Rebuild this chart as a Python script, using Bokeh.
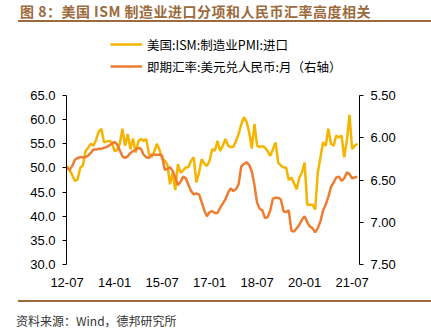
from bokeh.plotting import figure
from bokeh.models import (Range1d, LinearAxis, Legend, LegendItem, Div,
                          FixedTicker, NumeralTickFormatter)
from bokeh.layouts import column
from bokeh.embed import file_html
from bokeh.resources import INLINE

# ---- data (monthly, 2012-07 .. 2021-09) ----
ism_imports = [
    50.4, 49.5, 48.5, 47.3, 47.6, 50.0,
    50.5, 53.5, 54.2, 55.0, 54.6, 55.8, 57.5, 58.1, 55.3, 55.5, 55.6, 55.3,
    53.5, 53.7, 55.0, 58.1, 54.6, 57.0, 53.9, 56.1, 53.2, 55.5, 56.0, 55.6,
    56.0, 53.0, 52.2, 53.3, 55.0, 53.8, 52.0, 51.5, 50.7, 46.6, 49.0, 45.4,
    50.8, 49.0, 49.5, 50.1, 50.2, 51.5, 52.2, 47.0, 49.0, 51.8, 50.9, 50.4,
    51.5, 53.9, 53.6, 55.6, 53.5, 54.6, 56.0, 54.6, 54.3, 54.4, 55.5, 57.0,
    59.0, 60.5, 59.6, 57.4, 54.0, 59.1, 54.6, 54.3, 54.5, 54.2, 53.5, 52.5,
    53.9, 55.3, 51.1, 50.5, 50.1, 50.1, 47.5, 48.0, 46.8, 45.6, 48.0, 49.0,
    51.1, 42.4, 42.4, 42.4, 41.4, 49.0, 52.2, 55.3, 54.6, 58.1, 55.0, 54.6,
    56.7, 56.3, 56.7, 52.2, 55.6, 61.0, 53.9, 54.6, 55.0,
]
usdcny = [
    6.36, 6.38, 6.33, 6.26, 6.24, 6.23,
    6.23, 6.23, 6.21, 6.18, 6.14, 6.14, 6.13, 6.13, 6.12, 6.11, 6.09, 6.07,
    6.05, 6.08, 6.15, 6.22, 6.24, 6.22, 6.18, 6.16, 6.14, 6.12, 6.13, 6.20,
    6.23, 6.24, 6.20, 6.20, 6.20, 6.20, 6.21, 6.38, 6.37, 6.35, 6.39, 6.47,
    6.56, 6.52, 6.46, 6.48, 6.56, 6.63, 6.67, 6.66, 6.67, 6.76, 6.86, 6.93,
    6.88, 6.87, 6.89, 6.89, 6.83, 6.78, 6.73, 6.65, 6.60, 6.63, 6.61, 6.55,
    6.34, 6.31, 6.29, 6.32, 6.40, 6.56, 6.77, 6.84, 6.86, 6.95, 6.94, 6.86,
    6.72, 6.71, 6.71, 6.73, 6.87, 6.88, 6.86, 7.10, 7.11, 7.07, 7.03, 6.97,
    6.93, 7.00, 7.05, 7.07, 7.12, 7.07, 6.99, 6.86, 6.79, 6.70, 6.58, 6.53,
    6.47, 6.46, 6.51, 6.48, 6.41, 6.43, 6.48, 6.47, 6.46,
]
month_index = list(range(len(ism_imports)))
tick_positions = [0, 18, 36, 54, 72, 90, 108]
tick_labels = ["12-07", "14-01", "15-07", "17-01", "18-07", "20-01", "21-07"]
left_ticks = [30, 35, 40, 45, 50, 55, 60, 65]
right_ticks = [5.5, 6.0, 6.5, 7.0, 7.5]
name_ism = "美国:ISM:制造业PMI:进口"
name_fx = "即期汇率:美元兑人民币:月（右轴）"
title_text = "图 8：美国 ISM 制造业进口分项和人民币汇率高度相关"
source_text = "资料来源：Wind，德邦研究所"

YELLOW = "#F5B400"
ORANGE = "#ED7D31"
BROWN = "#9C6A3C"
TICK_FONT = "Liberation Sans"
CJK = "Noto Sans CJK SC"

# ---- layout geometry (canvas pixels) ----
W, H = 431, 330
TITLE_H = 28
FOOT_H = 30
FIG_H = H - TITLE_H - FOOT_H          # 272
FL, FR = 66, 359                      # frame left / right
AX_TOP, AX_BOT = 95, 264              # where the value axes start / end
FRAME_TOP = 30                        # frame reaches up to hold the legend
L_LO, L_HI = left_ticks[0], left_ticks[-1]
R_LO, R_HI = right_ticks[-1], right_ticks[0]   # inverted right axis
l_per_px = (L_HI - L_LO) / (AX_BOT - AX_TOP)
r_per_px = (R_LO - R_HI) / (AX_BOT - AX_TOP)
y_top_left = L_HI + (AX_TOP - FRAME_TOP) * l_per_px
y_top_right = R_HI - (AX_TOP - FRAME_TOP) * r_per_px

title_div = Div(
    text=(f'<div style="position:relative;width:{W}px;height:{TITLE_H}px;">'
          f'<div style="position:absolute;left:20px;top:2px;white-space:nowrap;'
          f'font-family:\'{CJK}\';font-weight:bold;font-size:14px;line-height:18px;'
          f'letter-spacing:0.5px;color:{BROWN};">{title_text}</div>'
          f'<div style="position:absolute;left:18px;width:{W - 18}px;top:20px;height:2px;'
          f'background:{BROWN};"></div></div>'),
    width=W, height=TITLE_H, margin=0)

foot_div = Div(
    text=(f'<div style="position:relative;width:{W}px;height:{FOOT_H}px;">'
          f'<div style="position:absolute;left:18px;width:{W - 18}px;top:0px;height:2px;'
          f'background:{BROWN};"></div>'
          f'<div style="position:absolute;left:16px;top:13px;white-space:nowrap;'
          f'font-family:\'{CJK}\';font-size:12px;line-height:16px;color:#333333;">'
          f'{source_text}</div></div>'),
    width=W, height=FOOT_H, margin=0)

p = figure(width=W, height=FIG_H, output_backend="svg", toolbar_location=None,
           x_range=Range1d(-0.2, 110.8), y_range=Range1d(L_LO, y_top_left),
           min_border_left=FL, min_border_right=W - FR,
           min_border_top=FRAME_TOP - TITLE_H,
           min_border_bottom=H - FOOT_H - AX_BOT, margin=0)
p.extra_y_ranges = {"fx": Range1d(start=R_LO, end=y_top_right)}
p.xgrid.visible = False
p.ygrid.visible = False
p.outline_line_color = None

r1 = p.line(month_index, ism_imports, line_color=YELLOW, line_width=2.5)
r2 = p.line(month_index, usdcny, line_color=ORANGE, line_width=2.5, y_range_name="fx")

# x axis
xa = p.xaxis[0]
xa.ticker = FixedTicker(ticks=tick_positions)
xa.major_label_overrides = {t: l for t, l in zip(tick_positions, tick_labels)}
xa.axis_line_color = None
xa.major_tick_line_color = None
xa.minor_tick_line_color = None
xa.major_label_standoff = 7
xa.major_label_text_font = TICK_FONT
xa.major_label_text_font_size = "13px"
xa.major_label_text_color = "#000000"

# left axis
ya = p.yaxis[0]
ya.ticker = FixedTicker(ticks=left_ticks)
ya.formatter = NumeralTickFormatter(format="0.0")
ya.bounds = (L_LO, L_HI)
ya.axis_line_color = "#000000"
ya.major_tick_line_color = "#000000"
ya.major_tick_out = 4
ya.major_tick_in = 0
ya.minor_tick_line_color = None
ya.major_label_standoff = 7
ya.major_label_text_font = TICK_FONT
ya.major_label_text_font_size = "13px"
ya.major_label_text_color = "#000000"

# right axis (inverted)
ra = LinearAxis(y_range_name="fx", ticker=FixedTicker(ticks=right_ticks),
                formatter=NumeralTickFormatter(format="0.00"), bounds=(R_HI, R_LO))
ra.axis_line_color = "#000000"
ra.major_tick_line_color = "#000000"
ra.major_tick_out = 4
ra.major_tick_in = 0
ra.minor_tick_line_color = None
ra.major_label_standoff = 7
ra.major_label_text_font = TICK_FONT
ra.major_label_text_font_size = "13px"
ra.major_label_text_color = "#000000"
p.add_layout(ra, "right")

# legend inside the (extended) frame
legend = Legend(items=[LegendItem(label=name_ism, renderers=[r1]),
                       LegendItem(label=name_fx, renderers=[r2])],
                location=(110 - FL, AX_BOT - 76), orientation="vertical",
                padding=0, margin=0, spacing=2, glyph_width=32, glyph_height=20,
                label_height=20, label_standoff=5,
                label_text_font=CJK, label_text_font_size="12.5px",
                label_text_color="#000000", label_text_baseline="middle",
                border_line_color=None, background_fill_alpha=0)
p.add_layout(legend, "center")

layout = column(title_div, p, foot_div, spacing=0, margin=0)
open("out.html", "w").write(file_html(layout, INLINE))
